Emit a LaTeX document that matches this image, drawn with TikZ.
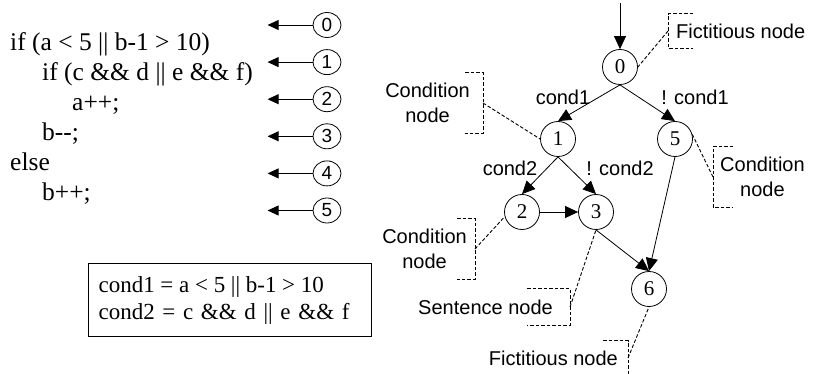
\documentclass[tikz,border=0pt]{standalone}
\usepackage{fontspec}
\setmainfont{Liberation Serif}
\newfontfamily\arialfont{Liberation Sans}
\usetikzlibrary{arrows.meta,shapes.geometric}

\tikzset{
  codeline/.style={anchor=base west, inner sep=0pt, font=\fontsize{25.5}{29}\selectfont},
  numcirc/.style={draw, ellipse, minimum width=28pt, minimum height=25pt, inner sep=0pt, line width=0.8pt, font=\arialfont\fontsize{19}{22}\selectfont},
  treenode/.style={draw, circle, minimum size=35pt, inner sep=0pt, line width=0.8pt, font=\fontsize{21}{24}\selectfont},
  lab/.style={inner sep=0pt, font=\arialfont\fontsize{20}{25}\selectfont, align=center},
  callout/.style={lab, inner xsep=8pt},
  bracket/.style={dash pattern=on 3.5pt off 2pt, line width=0.9pt},
  flow/.style={-{Triangle[length=13pt,width=12pt]}, line width=0.8pt},
  ptr/.style={-{Triangle[length=11pt,width=10pt]}, line width=0.8pt},
}

\begin{document}
\begin{tikzpicture}[x=1pt, y=-1pt]
\useasboundingbox (0,0) rectangle (814,374);
% source code and statement numbers
\node[codeline] (l1) at (10,50.5) {if (a < 5 || b-1 > 10)};
\node[codeline] (l2) at (42,80.5) {if (c \&\& d || e \&\& f)};
\node[codeline] (l3) at (72,110.5) {a++;};
\node[codeline] (l4) at (42,140.5) {b-{}-;};
\node[codeline] (l5) at (10,170.5) {else};
\node[codeline] (l6) at (42,200.5) {b++;};
\node[numcirc] (p0) at (327,25) {0}; \node[numcirc] (p1) at (327,62.1) {1}; \node[numcirc] (p2) at (327,99.2) {2};
\node[numcirc] (p3) at (327,136.3) {3}; \node[numcirc] (p4) at (327,173.4) {4}; \node[numcirc] (p5) at (327,210.5) {5};
\draw[ptr] (p0.west) -- ++(-45,0); \draw[ptr] (p1.west) -- ++(-45,0); \draw[ptr] (p2.west) -- ++(-45,0);
\draw[ptr] (p3.west) -- ++(-45,0); \draw[ptr] (p4.west) -- ++(-45,0); \draw[ptr] (p5.west) -- ++(-45,0);
\node[draw, line width=1.2pt, anchor=north west, minimum width=283pt, minimum height=73pt, inner xsep=10pt, align=left, text width=263pt, font=\fontsize{23}{27}\selectfont] (conds) at (88,263)
  {{\spaceskip=5.7pt cond1 = a < 5 || b-1 > 10}\\cond2 = c \&\& d || e \&\& f};

% control flow graph
\node[treenode] (n0) at (620,67) {0};
\node[treenode] (n1) at (558,139) {1}; \node[treenode] (n5) at (675,139) {5};
\node[treenode] (n2) at (522,212) {2}; \node[treenode] (n3) at (596,212) {3};
\node[treenode] (n6) at (649,289) {6};
\coordinate (entry) at (620,3);
\draw[flow] (entry) -- (n0);
\draw[flow] (n0.south) -- (n1.north); \draw[flow] (n0.south) -- (n5.north);
\draw[flow] (n1.south) -- (n2.north); \draw[flow] (n1.south) -- (n3.north);
\draw[flow] (n2) -- (n3);
\draw[flow] (n3.south) -- (n6.north); \draw[flow] (n5.south) -- (n6.north);
\node[lab] (c1) at (563,97) {cond1}; \node[lab] (nc1) at (695,97) {! cond1};
\node[lab] (c2) at (510,168) {cond2}; \node[lab] (nc2) at (620,168) {! cond2};

% callouts
\node[callout, anchor=west, minimum height=34pt] (fa) at (668,31) {Fictitious node};
\draw[bracket] ([xshift=25pt]fa.north west) -- (fa.north west) -- (fa.south west) -- ([xshift=25pt]fa.south west);
\draw[bracket] (fa.west) -- (n0.east);
\node[callout, anchor=east, minimum height=60pt, inner xsep=13pt] (ca) at (483,103) {Condition\\node};
\draw[bracket] ([xshift=-18pt]ca.north east) -- (ca.north east) -- (ca.south east) -- ([xshift=-18pt]ca.south east);
\draw[bracket] (ca.east) -- (n1.west);
\node[callout, anchor=west, minimum height=60pt, inner xsep=7pt] (cb) at (713,177) {Condition\\node};
\draw[bracket] ([xshift=20pt]cb.north west) -- (cb.north west) -- (cb.south west) -- ([xshift=20pt]cb.south west);
\draw[bracket] (cb.west) -- (n5.15);
\node[callout, anchor=east, minimum height=60pt] (cc) at (475,249) {Condition\\node};
\draw[bracket] ([xshift=-18pt]cc.north east) -- (cc.north east) -- (cc.south east) -- ([xshift=-18pt]cc.south east);
\draw[bracket] (cc.east) -- (n2.195);
\node[callout, anchor=east, minimum height=36pt, inner xsep=17pt] (sa) at (570,307) {Sentence node};
\draw[bracket] ([xshift=-43pt]sa.north east) -- (sa.north east) -- (sa.south east) -- ([xshift=-43pt]sa.south east);
\draw[bracket] (sa.east) -- (n3.south);
\node[callout, anchor=east, minimum height=34pt, inner xsep=10pt] (fb) at (628,358) {Fictitious node};
\draw[bracket] ([xshift=-25pt]fb.north east) -- (fb.north east) -- (fb.south east) -- ([xshift=-25pt]fb.south east);
\draw[bracket] (fb.east) -- (n6.south);
\end{tikzpicture}
\end{document}
